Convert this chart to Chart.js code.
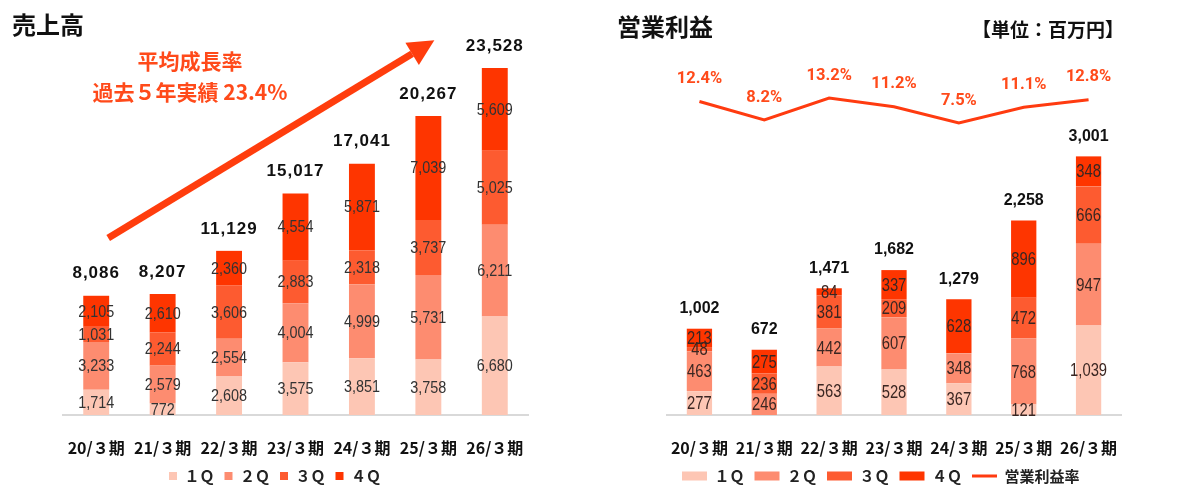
<!DOCTYPE html>
<html lang="ja">
<head>
<meta charset="utf-8">
<script src="https://cdn.jsdelivr.net/npm/chart.js@4.4.1/dist/chart.umd.min.js"></script>
<style>
  body { margin: 0; background: #fff; }
  #wrap { position: relative; width: 1200px; height: 500px; overflow: hidden; font-family: "Noto Sans CJK JP", sans-serif; }
  .box { position: absolute; top: 0; width: 600px; height: 500px; }
  .txt { position: absolute; font-weight: bold; line-height: 1; white-space: nowrap; color: #111; }
  .growth { color: #ff4a1a; text-align: center; width: 300px; }
</style>
</head>
<body>
<div id="wrap">
  <div class="box" style="left:0"><canvas id="sales" width="600" height="500"></canvas></div>
  <div class="box" style="left:600px"><canvas id="profit" width="600" height="500"></canvas></div>
  <div class="txt" style="left:12px; top:12px; font-size:24px">売上高</div>
  <div class="txt" style="left:617px; top:14px; font-size:24px">営業利益</div>
  <div class="txt" style="left:972px; top:19px; font-size:19px">【単位：百万円】</div>
  <div class="txt growth" style="left:40px; top:50px; font-size:21px">平均成長率</div>
  <div class="txt growth" style="left:40px; top:81px; font-size:21px">過去５年実績 23.4%</div>
</div>
<script>
// categories / tick labels
const periods = ['20/３期', '21/３期', '22/３期', '23/３期', '24/３期', '25/３期', '26/３期'];
const quarterNames = ['１Ｑ', '２Ｑ', '３Ｑ', '４Ｑ'];
const quarterColors = ['#fdc6b4', '#fd8c70', '#fd5b30', '#fe3500'];

// 売上高 (百万円)
const sales1Q = [1714, 772, 2608, 3575, 3851, 3758, 6680];
const sales2Q = [3233, 2579, 2554, 4004, 4999, 5731, 6211];
const sales3Q = [1031, 2244, 3606, 2883, 2318, 3737, 5025];
const sales4Q = [2105, 2610, 2360, 4554, 5871, 7039, 5609];
const salesTotal = [8086, 8207, 11129, 15017, 17041, 20267, 23528];

// 営業利益 (百万円) - negative quarters are not drawn in the picture
const profit1Q = [277, null, 563, 528, 367, 121, 1039];
const profit2Q = [463, 246, 442, 607, 348, 768, 947];
const profit3Q = [48, 236, 381, 209, null, 472, 666];
const profit4Q = [213, 275, 84, 337, 628, 896, 348];
const profitTotal = [1002, 672, 1471, 1682, 1279, 2258, 3001];

// 営業利益率 (%)
const profitRate = [12.4, 8.2, 13.2, 11.2, 7.5, 11.1, 12.8];

const labelPlugin = {
  id: 'barLabels',
  afterDatasetsDraw(chart, args, opts) {
    const ctx = chart.ctx;
    ctx.save();
    ctx.textAlign = 'center';
    ctx.textBaseline = 'middle';
    const tops = [];
    const sx = opts.segScale || 1;
    chart.data.datasets.forEach((ds, i) => {
      const meta = chart.getDatasetMeta(i);
      if (meta.type === 'bar') {
        ctx.font = opts.segFont;
        ctx.fillStyle = opts.segColor;
        meta.data.forEach((el, j) => {
          const v = ds.data[j];
          if (v == null) return;
          tops[j] = tops[j] == null ? el.y : Math.min(tops[j], el.y);
          ctx.save();
          ctx.translate(el.x, (el.y + el.base) / 2 + 1);
          ctx.scale(sx, 1);
          ctx.fillText(v.toLocaleString('en-US'), 0, 0);
          ctx.restore();
        });
      } else if (meta.type === 'line') {
        ctx.font = opts.rateFont;
        ctx.fillStyle = opts.rateColor;
        meta.data.forEach((el, j) => {
          ctx.fillText(ds.data[j].toFixed(1) + '%', el.x, el.y - opts.rateGap);
        });
      }
    });
    ctx.font = opts.totalFont;
    ctx.fillStyle = '#111';
    ctx.letterSpacing = opts.totalSpacing || '0px';
    const xMeta = chart.getDatasetMeta(0);
    opts.totals.forEach((t, j) => {
      ctx.fillText(t.toLocaleString('en-US'), xMeta.data[j].x, tops[j] - opts.totalGap);
    });
    ctx.restore();
  }
};

// growth arrow, anchored on the scales
const arrowPlugin = {
  id: 'growthArrow',
  afterDraw(chart) {
    const x = chart.scales.x, y = chart.scales.y, ctx = chart.ctx;
    const x0 = x.getPixelForValue(0) + 12, y0 = y.getPixelForValue(12000);
    const x1 = x.getPixelForValue(5) + 6, y1 = y.getPixelForValue(25400);
    const ang = Math.atan2(y1 - y0, x1 - x0);
    const headLen = 26, headW = 13;
    const bx = x1 - headLen * Math.cos(ang), by = y1 - headLen * Math.sin(ang);
    ctx.save();
    ctx.strokeStyle = '#ff3d0d';
    ctx.fillStyle = '#ff3d0d';
    ctx.lineWidth = 7;
    ctx.beginPath();
    ctx.moveTo(x0, y0);
    ctx.lineTo(bx, by);
    ctx.stroke();
    ctx.beginPath();
    ctx.moveTo(x1, y1);
    ctx.lineTo(bx + headW * Math.sin(ang), by - headW * Math.cos(ang));
    ctx.lineTo(bx - headW * Math.sin(ang), by + headW * Math.cos(ang));
    ctx.closePath();
    ctx.fill();
    ctx.restore();
  }
};

function barSet(label, data, i) {
  return { label, data, backgroundColor: quarterColors[i], pointStyle: 'rect', stack: 'q',
           barPercentage: 0.39, categoryPercentage: 1 };
}

function xAxis() {
  return {
    stacked: true,
    grid: { display: false },
    border: { display: true, color: '#d9d9d9', width: 2 },
    ticks: { color: '#111', padding: 15, font: { family: '"Noto Sans CJK JP"', size: 16, weight: 'bold' } },
    afterFit(s) { s.height = 43.5; }
  };
}

function legendOpts(extra) {
  return {
    position: 'bottom',
    labels: Object.assign({
      color: '#222',
      padding: 10,
      font: { family: '"Noto Sans CJK JP"', size: 15, weight: 'bold' }
    }, extra)
  };
}

new Chart(document.getElementById('sales'), {
  type: 'bar',
  data: {
    labels: periods,
    datasets: [
      barSet(quarterNames[0], sales1Q, 0),
      barSet(quarterNames[1], sales2Q, 1),
      barSet(quarterNames[2], sales3Q, 2),
      barSet(quarterNames[3], sales4Q, 3)
    ]
  },
  options: {
    responsive: false,
    animation: false,
    layout: { padding: { top: 30, left: 22, right: 72, bottom: 6.5 } },
    scales: {
      x: xAxis(),
      y: {
        stacked: true, min: 0, max: 26100,
        grid: { display: false }, border: { display: false }, ticks: { display: false },
        afterFit(s) { s.width = 41; }
      }
    },
    plugins: {
      legend: legendOpts({ boxWidth: 8, boxHeight: 8 }),
      tooltip: { enabled: false },
      barLabels: {
        segFont: '16px "Liberation Sans"', segColor: '#333', segScale: 0.9,
        totalFont: 'bold 17px "Liberation Sans"', totalSpacing: '1px', totalGap: 22,
        totals: salesTotal
      }
    }
  },
  plugins: [labelPlugin, arrowPlugin]
});

new Chart(document.getElementById('profit'), {
  type: 'bar',
  data: {
    labels: periods,
    datasets: [
      barSet(quarterNames[0], profit1Q, 0),
      barSet(quarterNames[1], profit2Q, 1),
      barSet(quarterNames[2], profit3Q, 2),
      barSet(quarterNames[3], profit4Q, 3),
      {
        type: 'line', label: '営業利益率', data: profitRate, yAxisID: 'y1',
        borderColor: '#ff3b10', backgroundColor: '#ff3b10', borderWidth: 3,
        pointRadius: 0, pointStyle: 'line', pointBorderWidth: 3, pointBorderColor: '#ff3b10'
      }
    ]
  },
  options: {
    responsive: false,
    animation: false,
    layout: { padding: { top: 30, left: 40.5, right: 79, bottom: 6.5 } },
    scales: {
      x: xAxis(),
      y: {
        stacked: true, min: 0, max: 4466,
        grid: { display: false }, border: { display: false }, ticks: { display: false },
        afterFit(s) { s.width = 26.5; }
      },
      y1: { display: false, min: -58.85, max: 28.65 }
    },
    plugins: {
      legend: legendOpts({ usePointStyle: true, pointStyleWidth: 25, boxHeight: 9 }),
      tooltip: { enabled: false },
      barLabels: {
        segFont: '18.5px "Liberation Sans"', segColor: '#3a2622', segScale: 0.8,
        totalFont: 'bold 16px "Liberation Sans"', totalGap: 20,
        rateFont: 'bold 16.5px Roboto', rateColor: '#ff4a1a', rateGap: 22.5,
        totals: profitTotal
      }
    }
  },
  plugins: [labelPlugin]
});
</script>
</body>
</html>
